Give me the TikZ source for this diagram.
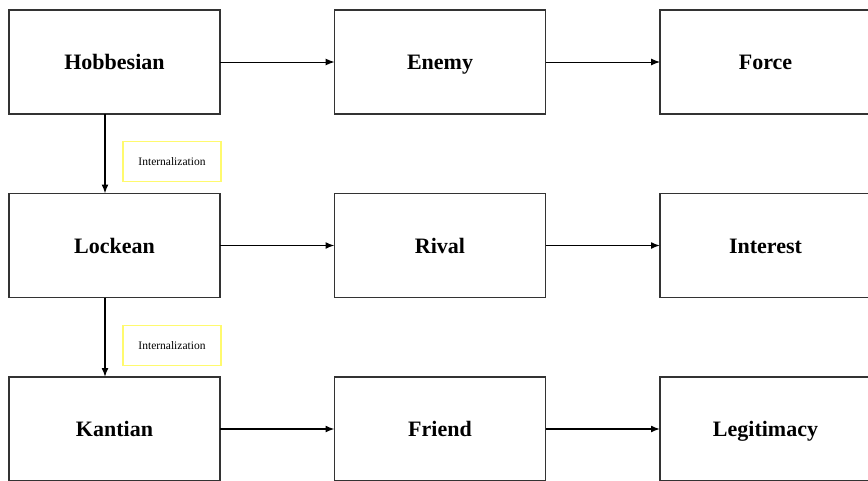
\documentclass[tikz,border=0pt]{standalone}
\usepackage{fontspec}
\setmainfont{Liberation Serif}
\usetikzlibrary{arrows.meta,positioning}

\begin{document}
\begin{tikzpicture}[->,>={Latex[length=9pt,width=7pt]},x=1pt,y=1pt,
                    node distance=79.5pt and 114.5pt,line width=1.5pt]
  \tikzstyle{stage}=[draw=black!80,line width=1.3pt,minimum width=211pt,
                     minimum height=104pt,outer sep=0pt,text height=18pt,
                     text depth=3pt,font=\fontsize{22}{26}\selectfont\bfseries]
  \tikzstyle{intl}=[draw={rgb,255:red,255;green,250;blue,110},line width=1.2pt,
                    minimum width=98pt,minimum height=40pt,outer sep=0pt,
                    font=\fontsize{11.5}{13}\selectfont]

  \useasboundingbox (0,0) rectangle (868,-480);

  \node[stage] (hob)                   at (114.5,-62) {Hobbesian};
  \node[stage] (enemy) [right=of hob]   {Enemy};
  \node[stage] (force) [right=of enemy] {Force};
  \node[stage] (lock)  [below=of hob]   {Lockean};
  \node[stage] (rival) [right=of lock]  {Rival};
  \node[stage] (inter) [right=of rival] {Interest};
  \node[stage] (kant)  [below=of lock]  {Kantian};
  \node[stage] (friend)[right=of kant]  {Friend};
  \node[stage] (legit) [right=of friend]{Legitimacy};

  \draw[line width=1pt] (hob) -- (enemy);
  \draw[line width=1pt] (enemy) -- (force);
  \draw (lock) -- (rival);
  \draw (rival) -- (inter);
  \draw (kant) -- (friend);
  \draw (friend) -- (legit);

  \draw ([xshift=-9.5pt]hob.south) -- ([xshift=-9.5pt]lock.north)
        node[intl,pos=0.6,right=18pt] (int1) {Internalization};
  \draw ([xshift=-9.5pt]lock.south) -- ([xshift=-9.5pt]kant.north)
        node[intl,pos=0.6,right=18pt] (int2) {Internalization};
\end{tikzpicture}
\end{document}
